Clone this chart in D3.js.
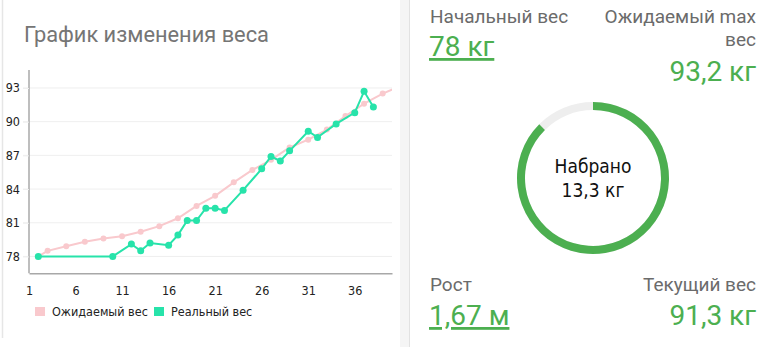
<!DOCTYPE html>
<html>
<head>
<meta charset="utf-8">
<script src="https://cdn.jsdelivr.net/npm/d3@7"></script>
<style>
  html, body { margin: 0; padding: 0; background: #fff; }
  svg { display: block; }
</style>
</head>
<body>
<div id="plot"></div>
<script>
const CANVAS_WIDTH  = 770;
const CANVAS_HEIGHT = 347;

// expected weight curve (week, kg)
var expectedWeeks  = [2, 3, 5, 7, 9, 11, 13, 15, 17, 19, 21, 23, 25, 27, 29, 31, 33, 35, 37, 39, 41];
var expectedWeight = [78, 78.5, 78.9, 79.3, 79.6, 79.8, 80.2, 80.7, 81.4, 82.5, 83.4, 84.6, 85.7, 86.6, 87.7, 88.4, 89.3, 90.5, 91.6, 92.5, 93.2];

// real weight (week, kg)
var realWeeks  = [2, 10, 12, 13, 14, 16, 17, 18, 19, 20, 21, 22, 24, 26, 27, 28, 29, 31, 32, 34, 36, 37, 38];
var realWeight = [78, 78, 79.1, 78.5, 79.2, 79.0, 79.9, 81.2, 81.2, 82.3, 82.3, 82.1, 83.9, 85.8, 86.9, 86.5, 87.4, 89.15, 88.6, 89.8, 90.8, 92.7, 91.3];

var xTicks = [1, 6, 11, 16, 21, 26, 31, 36];
var yTicks = [78, 81, 84, 87, 90, 93];

var seriesNames = ["Ожидаемый вес", "Реальный вес"];

var startWeight   = 78;
var maxWeight     = 93.2;
var currentWeight = 91.3;
var height        = "1,67 м";

const PINK  = "#f9c9cd";
const TEAL  = "#27e3aa";
const GREEN = "#4caf50";

function fmt(v) { return String(v).replace(".", ","); }

var svg = d3.select("#plot")
    .append("svg")
    .attr("width", CANVAS_WIDTH)
    .attr("height", CANVAS_HEIGHT);

// card frames
svg.append("rect").attr("x", 400).attr("y", 0).attr("width", 9).attr("height", CANVAS_HEIGHT).attr("fill", "#f5f5f5");
svg.append("line").attr("x1", 409.5).attr("x2", 409.5).attr("y1", 0).attr("y2", CANVAS_HEIGHT)
   .attr("stroke", "#e2e2e2").attr("stroke-width", 1);
svg.append("line").attr("x1", 2.5).attr("x2", 2.5).attr("y1", 0).attr("y2", 338)
   .attr("stroke", "#e6e6e6").attr("stroke-width", 1.5);

// title
svg.append("text")
   .attr("x", 24).attr("y", 42)
   .attr("font-family", "Roboto").attr("font-size", 21.8)
   .attr("fill", "#757575")
   .text("График изменения веса");

// scales
var xScale = d3.scaleLinear().domain([1, 40]).range([29, 392]);
var yScale = d3.scaleLinear().domain([76.5, 94.6]).range([273.3, 70]);

var tickFont = "DejaVu Sans Condensed";

// grid lines
svg.append("g").selectAll("line")
   .data(yTicks).enter().append("line")
   .attr("x1", 23).attr("x2", xScale(40))
   .attr("y1", d => yScale(d)).attr("y2", d => yScale(d))
   .attr("stroke", "#efefef").attr("stroke-width", 1);

// axes
var xAxis = d3.axisBottom(xScale).tickValues(xTicks).tickSize(0).tickPadding(13);
var yAxis = d3.axisLeft(yScale).tickValues(yTicks).tickSize(6).tickPadding(3);

var gx = svg.append("g")
   .attr("transform", "translate(0," + yScale(76.5) + ")")
   .call(xAxis);
gx.select(".domain").attr("stroke", "#a8a8a8").attr("stroke-width", 1.5);
gx.selectAll("text").attr("font-family", tickFont).attr("font-size", 12.5).attr("fill", "#222");

var gy = svg.append("g")
   .attr("transform", "translate(" + xScale(1) + ",0)")
   .call(yAxis);
gy.select(".domain").attr("stroke", "#a8a8a8").attr("stroke-width", 1.5).attr("d", "M0," + yScale(94.6) + "V" + yScale(76.5));
gy.selectAll(".tick line").attr("stroke", "#efefef");
gy.selectAll("text").attr("font-family", tickFont).attr("font-size", 12.5).attr("fill", "#222");

// plot clip
svg.append("clipPath").attr("id", "clip")
   .append("rect")
   .attr("x", xScale(1)).attr("y", yScale(94.6))
   .attr("width", xScale(40) - xScale(1)).attr("height", yScale(76.5) - yScale(94.6));

var line = d3.line().x(d => xScale(d[0])).y(d => yScale(d[1]));

var expected = d3.zip(expectedWeeks, expectedWeight);
var real = d3.zip(realWeeks, realWeight);

var plot = svg.append("g").attr("clip-path", "url(#clip)");

plot.append("path").datum(expected)
   .attr("d", line).attr("fill", "none")
   .attr("stroke", PINK).attr("stroke-width", 2);
plot.selectAll("circle.exp")
   .data(expected).enter().append("circle")
   .attr("class", "exp")
   .attr("cx", d => xScale(d[0])).attr("cy", d => yScale(d[1]))
   .attr("r", 3).attr("fill", PINK);

plot.append("path").datum(real)
   .attr("d", line).attr("fill", "none")
   .attr("stroke", TEAL).attr("stroke-width", 2);
plot.selectAll("circle.real")
   .data(real).enter().append("circle")
   .attr("class", "real")
   .attr("cx", d => xScale(d[0])).attr("cy", d => yScale(d[1]))
   .attr("r", 3.5).attr("fill", TEAL);

// legend
var legend = svg.append("g").attr("transform", "translate(35,307)");
var legendX = [0, 119];
[PINK, TEAL].forEach(function(c, i) {
    legend.append("rect")
       .attr("x", legendX[i]).attr("y", 0)
       .attr("width", 10).attr("height", 9).attr("fill", c);
    legend.append("text")
       .attr("x", legendX[i] + 17).attr("y", 9)
       .attr("font-family", tickFont).attr("font-size", 12.5).attr("fill", "#222")
       .text(seriesNames[i]);
});

// right panel
function label(x, y, anchor, txt) {
    svg.append("text")
       .attr("x", x).attr("y", y).attr("text-anchor", anchor)
       .attr("font-family", "Roboto").attr("font-size", 19).attr("fill", "#6b6b6b")
       .text(txt);
}
function value(x, y, anchor, txt, underline) {
    svg.append("text")
       .attr("x", x).attr("y", y).attr("text-anchor", anchor)
       .attr("font-family", "Roboto").attr("font-size", 28).attr("fill", GREEN)
       .attr("text-decoration", underline ? "underline" : null)
       .text(txt);
}

label(430, 23, "start", "Начальный вес");
value(429, 56, "start", fmt(startWeight) + " кг", true);

label(756, 23, "end", "Ожидаемый max");
label(756, 46, "end", "вес");
value(756, 81, "end", fmt(maxWeight) + " кг", false);

label(430, 291, "start", "Рост");
value(429, 325, "start", height, true);

label(756, 291, "end", "Текущий вес");
value(756, 325, "end", fmt(currentWeight) + " кг", false);

// donut
var gained = Math.round((currentWeight - startWeight) * 10) / 10;
var frac = gained / (maxWeight - startWeight);
var arc = d3.arc().innerRadius(68).outerRadius(76);
var donut = svg.append("g").attr("transform", "translate(593,178)");
donut.append("path")
   .attr("d", arc({ startAngle: 0, endAngle: 2 * Math.PI }))
   .attr("fill", "#eeeeee");
donut.append("path")
   .attr("d", arc({ startAngle: 0, endAngle: 2 * Math.PI * frac }))
   .attr("fill", GREEN);
donut.append("text")
   .attr("y", -5).attr("text-anchor", "middle")
   .attr("font-family", tickFont).attr("font-size", 19).attr("fill", "#111")
   .text("Набрано");
donut.append("text")
   .attr("y", 19).attr("text-anchor", "middle")
   .attr("font-family", tickFont).attr("font-size", 19).attr("fill", "#111")
   .text(fmt(gained) + " кг");
</script>
</body>
</html>
